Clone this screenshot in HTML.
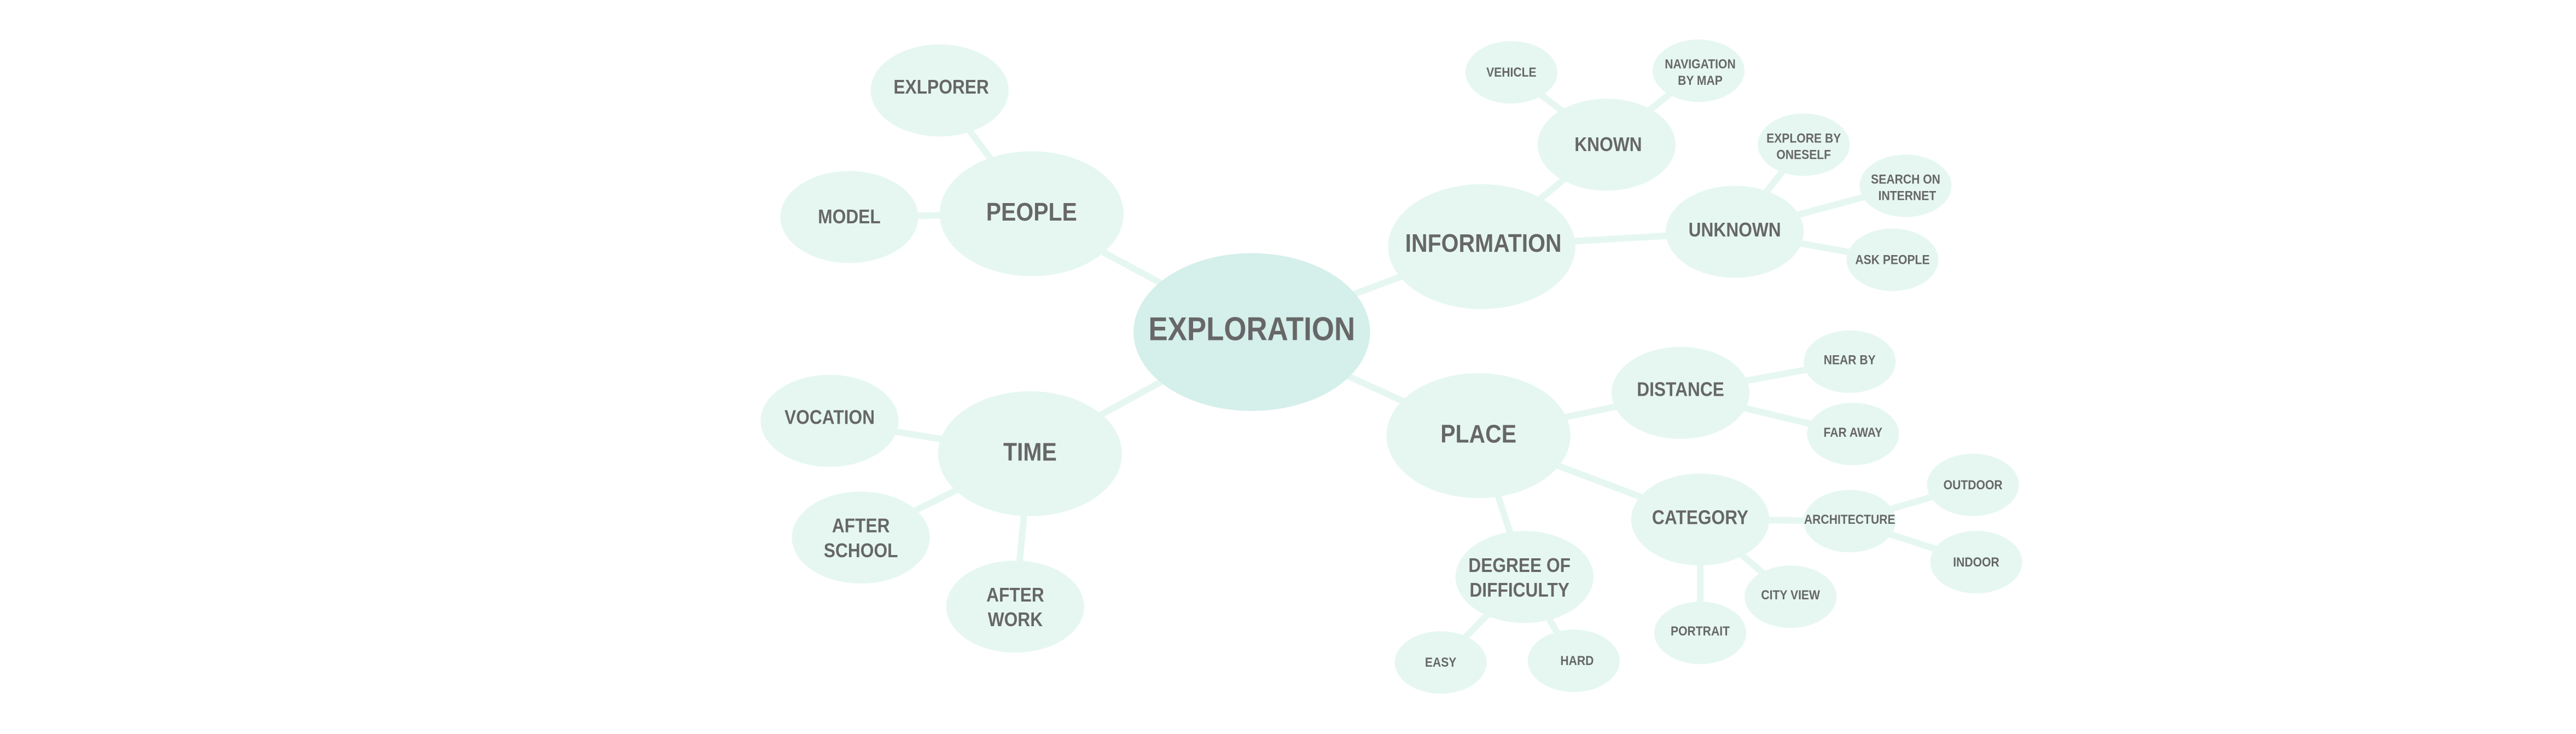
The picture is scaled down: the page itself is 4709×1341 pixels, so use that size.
<!DOCTYPE html>
<html><head><meta charset="utf-8"><style>
html,body{margin:0;padding:0;background:#fff;}
svg{display:block}
text{font-family:"Liberation Sans",Arial,sans-serif;fill:#676767;text-anchor:middle;dominant-baseline:central;}
</style></head><body>
<svg width="4709" height="1341" viewBox="0 0 1568.1 446.5" xmlns="http://www.w3.org/2000/svg">
<g stroke="#e6f7f2" stroke-width="4">
<line x1="762" y1="202" x2="628" y2="130"/>
<line x1="628" y1="130" x2="572" y2="55"/>
<line x1="628" y1="130" x2="517" y2="132"/>
<line x1="762" y1="202" x2="627" y2="276"/>
<line x1="627" y1="276" x2="505" y2="256"/>
<line x1="627" y1="276" x2="524" y2="327"/>
<line x1="627" y1="276" x2="618" y2="369"/>
<line x1="762" y1="202" x2="902" y2="150"/>
<line x1="902" y1="150" x2="978" y2="88"/>
<line x1="978" y1="88" x2="920" y2="44"/>
<line x1="978" y1="88" x2="1034" y2="43"/>
<line x1="902" y1="150" x2="1056" y2="141"/>
<line x1="1056" y1="141" x2="1098" y2="88"/>
<line x1="1056" y1="141" x2="1160" y2="113"/>
<line x1="1056" y1="141" x2="1152" y2="158"/>
<line x1="762" y1="202" x2="900" y2="265"/>
<line x1="900" y1="265" x2="1023" y2="239"/>
<line x1="1023" y1="239" x2="1126" y2="220"/>
<line x1="1023" y1="239" x2="1128" y2="264"/>
<line x1="900" y1="265" x2="1035" y2="316"/>
<line x1="1035" y1="316" x2="1126" y2="317"/>
<line x1="1126" y1="317" x2="1201" y2="295"/>
<line x1="1126" y1="317" x2="1203" y2="342"/>
<line x1="1035" y1="316" x2="1090" y2="363"/>
<line x1="1035" y1="316" x2="1035" y2="385"/>
<line x1="900" y1="265" x2="928" y2="351"/>
<line x1="928" y1="351" x2="877" y2="403"/>
<line x1="928" y1="351" x2="958" y2="402"/>
</g>
<g fill="#e6f7f2">
<ellipse cx="628" cy="130" rx="56" ry="38"/>
<ellipse cx="572" cy="55" rx="42" ry="28"/>
<ellipse cx="517" cy="132" rx="42" ry="28"/>
<ellipse cx="627" cy="276" rx="56" ry="38"/>
<ellipse cx="505" cy="256" rx="42" ry="28"/>
<ellipse cx="524" cy="327" rx="42" ry="28"/>
<ellipse cx="618" cy="369" rx="42" ry="28"/>
<ellipse cx="902" cy="150" rx="57" ry="38"/>
<ellipse cx="978" cy="88" rx="42" ry="28"/>
<ellipse cx="920" cy="44" rx="28" ry="19"/>
<ellipse cx="1034" cy="43" rx="28" ry="19"/>
<ellipse cx="1056" cy="141" rx="42" ry="28"/>
<ellipse cx="1098" cy="88" rx="28" ry="19"/>
<ellipse cx="1160" cy="113" rx="28" ry="19"/>
<ellipse cx="1152" cy="158" rx="28" ry="19"/>
<ellipse cx="900" cy="265" rx="56" ry="38"/>
<ellipse cx="1023" cy="239" rx="42" ry="28"/>
<ellipse cx="1126" cy="220" rx="28" ry="19"/>
<ellipse cx="1128" cy="264" rx="28" ry="19"/>
<ellipse cx="1035" cy="316" rx="42" ry="28"/>
<ellipse cx="1126" cy="317" rx="28" ry="19"/>
<ellipse cx="1201" cy="295" rx="28" ry="19"/>
<ellipse cx="1203" cy="342" rx="28" ry="19"/>
<ellipse cx="1090" cy="363" rx="28" ry="19"/>
<ellipse cx="1035" cy="385" rx="28" ry="19"/>
<ellipse cx="928" cy="351" rx="42" ry="28"/>
<ellipse cx="877" cy="403" rx="28" ry="19"/>
<ellipse cx="958" cy="402" rx="28" ry="19"/>
</g>
<ellipse cx="762" cy="202" rx="72" ry="48" fill="#d5efea"/>
<g transform="scale(0.88,1)">
<text x="865.9" y="200" font-size="20" font-weight="bold">EXPLORATION</text>
<g font-size="15.5" font-weight="bold">
<text x="713.6" y="129">PEOPLE</text>
<text x="712.5" y="275">TIME</text>
<text x="1026.1" y="148">INFORMATION</text>
<text x="1022.7" y="264">PLACE</text>
</g>
<g font-size="12" font-weight="bold">
<text x="651.1" y="53">EXLPORER</text>
<text x="587.5" y="132">MODEL</text>
<text x="573.9" y="254">VOCATION</text>
<text x="595.5" y="320">AFTER</text>
<text x="595.5" y="335">SCHOOL</text>
<text x="702.3" y="362">AFTER</text>
<text x="702.3" y="377">WORK</text>
<text x="1112.5" y="88">KNOWN</text>
<text x="1200" y="140">UNKNOWN</text>
<text x="1162.5" y="237">DISTANCE</text>
<text x="1176.1" y="315">CATEGORY</text>
<text x="1051.1" y="344">DEGREE OF</text>
<text x="1051.1" y="359">DIFFICULTY</text>
</g>
<g font-size="8" font-weight="bold">
<text x="1045.5" y="44">VEHICLE</text>
<text x="1176.1" y="39">NAVIGATION</text>
<text x="1176.1" y="49">BY MAP</text>
<text x="1247.7" y="84">EXPLORE BY</text>
<text x="1247.7" y="94">ONESELF</text>
<text x="1318.2" y="109">SEARCH ON</text>
<text x="1319.3" y="119">INTERNET</text>
<text x="1309.1" y="158">ASK PEOPLE</text>
<text x="1279.5" y="219">NEAR BY</text>
<text x="1281.8" y="263">FAR AWAY</text>
<text x="1279.5" y="316">ARCHITECTURE</text>
<text x="1364.8" y="295">OUTDOOR</text>
<text x="1367" y="342">INDOOR</text>
<text x="1238.6" y="362">CITY VIEW</text>
<text x="1176.1" y="384">PORTRAIT</text>
<text x="996.6" y="403">EASY</text>
<text x="1090.9" y="402">HARD</text>
</g>
</g>
</svg>
</body></html>
